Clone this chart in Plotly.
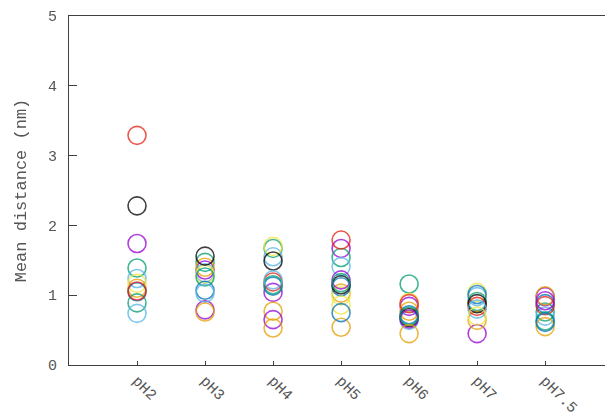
import plotly.graph_objects as go

# pH conditions along the x axis
categories = ["pH2", "pH3", "pH4", "pH5", "pH6", "pH7", "pH7.5"]

# Mean distance (nm) per run; None where a run has no point at that pH
purple_a = [1.74, 1.36, 1.04, 1.67, 0.84, 0.45, 0.98]
green_a = [1.39, 1.47, 1.67, 1.54, 1.16, 0.91, 0.76]
lightblue_a = [1.24, 1.32, 1.55, 1.41, 0.64, 0.98, 0.70]
orange_a = [1.10, 1.40, 0.77, 1.03, 0.77, 0.64, 0.99]
yellow_a = [1.17, 1.30, 1.70, 0.99, 0.90, 1.04, None]
blue_a = [1.05, 1.07, 1.13, 1.12, 0.72, 1.01, 0.88]
red_a = [3.29, None, 1.19, 1.79, 0.88, 0.84, 0.85]
black_a = [2.28, 1.56, 1.49, 1.15, 0.68, 0.88, None]
purple_b = [None, 0.79, 0.65, 1.22, 0.66, None, 0.92]
green_b = [0.89, 1.26, 1.15, 1.18, 0.70, None, 0.63]
lightblue_b = [0.74, 1.03, 1.22, None, None, 0.80, None]
orange_b = [None, 0.76, 0.53, 0.54, 0.45, None, 0.55]
yellow_b = [None, None, None, 0.86, None, 0.70, None]
blue_b = [None, None, None, 0.75, None, None, 0.61]
red_b = [1.06, None, None, None, None, None, None]

series = [
    (purple_a, "#9400d3"), (green_a, "#009e73"), (lightblue_a, "#56b4e9"),
    (orange_a, "#e69f00"), (yellow_a, "#f0e442"), (blue_a, "#0072b2"),
    (red_a, "#e51e10"), (black_a, "#000000"),
    (purple_b, "#9400d3"), (green_b, "#009e73"), (lightblue_b, "#56b4e9"),
    (orange_b, "#e69f00"), (yellow_b, "#f0e442"), (blue_b, "#0072b2"),
    (red_b, "#e51e10"),
]

font_family = "Liberation Mono, Courier New, monospace"
text_color = "#555555"
axis_color = "#404040"

fig = go.Figure()
for values, color in series:
    xs = [c for c, v in zip(categories, values) if v is not None]
    ys = [v for v in values if v is not None]
    fig.add_trace(go.Scatter(
        x=xs, y=ys, mode="markers",
        marker=dict(symbol="circle-open", size=18, color=color,
                    line=dict(width=1.6, color=color)),
        opacity=0.75, showlegend=False, hoverinfo="x+y",
    ))

fig.update_layout(
    width=605, height=414,
    margin=dict(l=69, r=0, t=16, b=49),
    paper_bgcolor="white", plot_bgcolor="white",
    font=dict(family=font_family, color=text_color, size=15),
)
fig.update_xaxes(
    type="category", categoryorder="array", categoryarray=categories,
    range=[-1, 6.88], automargin=False,
    showgrid=False, zeroline=False,
    showline=True, linecolor=axis_color, linewidth=1, mirror=True,
    ticks="inside", ticklen=4, tickcolor=axis_color,
    tickangle=45, tickfont=dict(family=font_family, size=15, color=text_color),
)
fig.update_yaxes(
    range=[0, 5], tickvals=[0, 1, 2, 3, 4, 5], automargin=False,
    showgrid=False, zeroline=False,
    showline=True, linecolor=axis_color, linewidth=1,
    ticks="inside", ticklen=8, tickcolor=axis_color,
    ticklabelstandoff=8,
    tickfont=dict(family=font_family, size=15, color=text_color),
    title=dict(text="Mean distance (nm)", standoff=17,
               font=dict(family=font_family, size=17, color=text_color)),
)

fig.write_html("out.html")
